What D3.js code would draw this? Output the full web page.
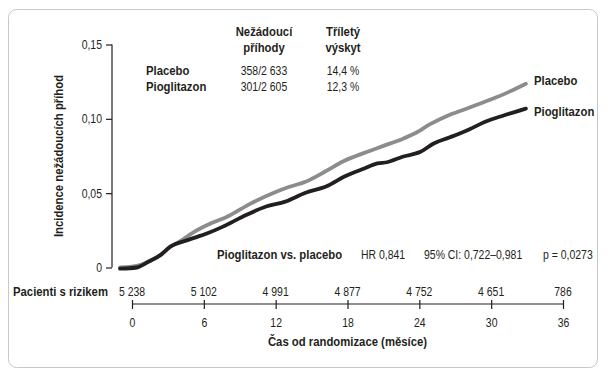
<!DOCTYPE html>
<html><head><meta charset="utf-8">
<script src="https://cdn.jsdelivr.net/npm/d3@7"></script>
<style>
html,body{margin:0;padding:0;background:#fff;}
svg text{font-family:"Liberation Sans",Arial,sans-serif;fill:#231f20;}
</style></head>
<body><svg id="c" width="610" height="374"></svg>
<script>
const placeboMonths = [-1.0,0.0,0.75,1.5,2.4,3.2,4.0,5.0,6.6,7.9,9.9,11.85,13.15,14.5,16.1,17.7,19.4,21.0,22.6,23.6,24.9,26.5,28.2,29.8,31.4,32.9];
const placeboVals   = [0.0,0.0005,0.0018,0.0045,0.0085,0.014,0.0175,0.023,0.0297,0.034,0.043,0.0503,0.0543,0.0577,0.0644,0.0716,0.0771,0.0818,0.0865,0.0901,0.0964,0.1026,0.1076,0.1125,0.1178,0.1236];
const pioMonths = [-1.0,0.4,1.4,2.4,3.2,4.7,6.3,7.6,9.2,11.2,12.8,14.5,16.3,17.7,19.4,20.5,21.3,22.6,24.1,25.2,26.5,28.2,29.5,31.1,32.9];
const pioVals   = [-0.0008,0.0,0.004,0.0085,0.014,0.0186,0.023,0.0275,0.034,0.041,0.0443,0.0503,0.0548,0.061,0.0666,0.070,0.0708,0.0745,0.0778,0.0834,0.0874,0.093,0.098,0.1024,0.1069];
const xTicks = [0,6,12,18,24,30,36];
const yTicks = [0,0.05,0.10,0.15];
const yTickLabels = ["0","0,05","0,10","0,15"];
const atRisk = ["5 238","5 102","4 991","4 877","4 752","4 651","786"];
const tableRows = ["Placebo","Pioglitazon"];
const tableEvents = ["358/2 633","301/2 605"];
const tableRate = ["14,4 %","12,3 %"];

const FS = 12.3;
const svg = d3.select("#c");
svg.append("rect").attr("x",8.5).attr("y",9.5).attr("width",589).attr("height",358)
  .attr("rx",8).attr("fill","#fff").attr("stroke","#c8c8c8").attr("stroke-width",1);

const x = d3.scaleLinear().domain([0,36]).range([132,563]);
const y = d3.scaleLinear().domain([0,0.15]).range([267.5,44.5]);

// Y axis
const ya = svg.append("g").attr("transform","translate(112,0)")
  .call(d3.axisLeft(y).tickValues(yTicks).tickSize(6).tickPadding(4).tickFormat((d,i)=>yTickLabels[i]));
ya.select(".domain").attr("stroke","#231f20").attr("stroke-width",1.2).attr("d","M0,"+y(0.15)+"V"+y(0));
ya.selectAll(".tick line").attr("stroke","#231f20").attr("stroke-width",1.2);
ya.selectAll(".tick text").attr("font-size",FS).attr("fill","#231f20").attr("font-family","'Liberation Sans',Arial,sans-serif");

// X axis
const xa = svg.append("g").attr("transform","translate(0,304)")
  .call(d3.axisBottom(x).tickValues(xTicks).tickSizeInner(6).tickSizeOuter(0).tickPadding(8));
xa.select(".domain").attr("stroke","#231f20").attr("stroke-width",1.2).attr("d","M"+x(0)+",0H"+x(36));
xa.selectAll(".tick line").attr("stroke","#231f20").attr("stroke-width",1.2).attr("y1",-4).attr("y2",5);
xa.selectAll(".tick text").attr("font-size",FS).attr("fill","#231f20").attr("font-family","'Liberation Sans',Arial,sans-serif");

svg.append("text").attr("x",x(18)).attr("y",346).attr("text-anchor","middle")
  .attr("font-size",FS).attr("font-weight","bold").text("Čas od randomizace (měsíce)");
svg.append("text").attr("transform","translate(63,156) rotate(-90)").attr("text-anchor","middle")
  .attr("font-size",FS).attr("font-weight","bold").text("Incidence nežádoucích příhod");

// at risk row
svg.append("text").attr("x",13).attr("y",296).attr("font-size",FS).attr("font-weight","bold").text("Pacienti s rizikem");
svg.selectAll(".risk").data(atRisk).join("text").attr("class","risk")
  .attr("x",(d,i)=>x(xTicks[i])).attr("y",296).attr("text-anchor","middle").attr("font-size",FS).text(d=>d);

// lines
const line = d3.line().curve(d3.curveMonotoneX);
const placeboPts = placeboMonths.map((m,i)=>[x(m),y(placeboVals[i])]);
const pioPts = pioMonths.map((m,i)=>[x(m),y(pioVals[i])]);
svg.append("path").attr("d",line(placeboPts)).attr("fill","none").attr("stroke","#8c8c8c")
  .attr("stroke-width",3.8).attr("stroke-linecap","round").attr("stroke-linejoin","round");
svg.append("path").attr("d",line(pioPts)).attr("fill","none").attr("stroke","#231f20")
  .attr("stroke-width",3.8).attr("stroke-linecap","round").attr("stroke-linejoin","round");

// end labels
svg.append("text").attr("x",534).attr("y",85).attr("font-size",FS).attr("font-weight","bold").text("Placebo");
svg.append("text").attr("x",534).attr("y",116).attr("font-size",FS).attr("font-weight","bold").text("Pioglitazon");

// table
const hdr = [["Nežádoucí","příhody",264],["Tříletý","výskyt",343]];
hdr.forEach(h=>{
  svg.append("text").attr("x",h[2]).attr("y",36).attr("text-anchor","middle").attr("font-size",FS).attr("font-weight","bold").text(h[0]);
  svg.append("text").attr("x",h[2]).attr("y",52).attr("text-anchor","middle").attr("font-size",FS).attr("font-weight","bold").text(h[1]);
});
tableRows.forEach((r,i)=>{
  const yy = 75 + i*15.5;
  svg.append("text").attr("x",146).attr("y",yy).attr("font-size",FS).attr("font-weight","bold").text(r);
  svg.append("text").attr("x",264).attr("y",yy).attr("text-anchor","middle").attr("font-size",FS).text(tableEvents[i]);
  svg.append("text").attr("x",343).attr("y",yy).attr("text-anchor","middle").attr("font-size",FS).text(tableRate[i]);
});

// stats line
svg.append("text").attr("x",217).attr("y",259).attr("font-size",FS).attr("font-weight","bold").text("Pioglitazon vs. placebo");
svg.append("text").attr("x",361).attr("y",259).attr("font-size",FS).text("HR 0,841");
svg.append("text").attr("x",424).attr("y",259).attr("font-size",FS).text("95% CI: 0,722–0,981");
svg.append("text").attr("x",543).attr("y",259).attr("font-size",FS).text("p = 0,0273");

// condense text to mimic the narrower typeface of the original
svg.selectAll("text").each(function(){
  const w = this.getComputedTextLength();
  const bold = d3.select(this).attr("font-weight") === "bold";
  if (w > 0) d3.select(this).attr("textLength", w*(bold?0.92:0.85)).attr("lengthAdjust","spacingAndGlyphs");
});
</script></body></html>
